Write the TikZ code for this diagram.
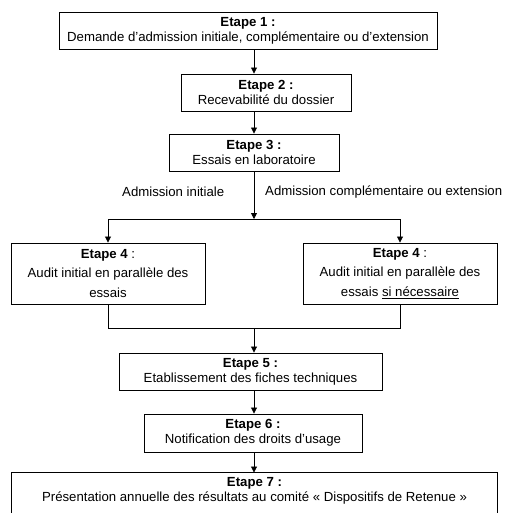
\documentclass[tikz,border=0pt]{standalone}
\usepackage{fontspec}
\setmainfont{Liberation Sans}
\usetikzlibrary{arrows.meta}
\begin{document}
\begin{tikzpicture}[x=1pt,y=-1pt,
  box/.style={draw, line width=0.9pt, inner sep=0pt, align=center,
    font=\fontsize{13.2}{15}\selectfont},
  boxfour/.style={box, font=\fontsize{13.2}{19.5}\selectfont},
  boxline/.style={line width=0.9pt},
  lbl/.style={inner sep=0pt, font=\fontsize{13.2}{15}\selectfont},
  conn/.style={line width=0.8pt},
  arr/.style={conn, -{Triangle[length=6pt,width=6pt]}}]
\useasboundingbox (0,0) rectangle (505,513);
\clip (0,0) rectangle (505,513);

\node[box, minimum width=378pt, minimum height=37pt] (b1) at (248,30.5)
  {\textbf{Etape 1 :}\\Demande d’admission initiale, complémentaire ou d’extension};
\node[box, minimum width=170pt, minimum height=37pt] (b2) at (266,92.5)
  {\textbf{Etape 2 :}\\Recevabilité du dossier};
\node[box, minimum width=170pt, minimum height=37pt] (b3) at (254,152.5)
  {\textbf{Etape 3 :}\\Essais en laboratoire};

\node[lbl, anchor=west] (l1) at (122,192) {Admission initiale};
\node[lbl, anchor=west] (l2) at (265,192) {Admission complémentaire ou extension};

\node[boxfour, minimum width=194pt, minimum height=61pt] (b4l) at (108,273.5)
  {\textbf{Etape 4} :\\Audit initial en parallèle des\\essais};
\node[boxfour, minimum width=194pt, minimum height=61pt] (b4r) at (400,273.5)
  {\textbf{Etape 4} :\\Audit initial en parallèle des\\essais \underline{si nécessaire}};

\node[box, minimum width=263pt, minimum height=37pt] (b5) at (250.5,371.5)
  {\textbf{Etape 5 :}\\Etablissement des fiches techniques};
\node[box, minimum width=218pt, minimum height=38pt] (b6) at (253,433)
  {\textbf{Etape 6 :}\\Notification des droits d’usage};
\node[box, draw=none, minimum width=485pt, minimum height=36pt] (b7) at (254.5,491)
  {\textbf{Etape 7 :}\\Présentation annuelle des résultats au comité « Dispositifs de Retenue »};
\draw[boxline] ([yshift=-20pt]b7.south west) -- (b7.north west) -- (b7.north east) -- ([yshift=-20pt]b7.south east);

\coordinate (split) at (254,219);
\coordinate (join) at (254,328);

\draw[arr] (b1.south -| split) -- (b2.north -| split);
\draw[arr] (b2.south -| split) -- (b3.north -| split);
\draw[arr] (b3.south -| split) -- (split);
\draw[conn] (split -| b4l.north) -- (split -| b4r.north);
\draw[arr] (split -| b4l.north) -- (b4l.north);
\draw[arr] (split -| b4r.north) -- (b4r.north);
\draw[conn] (b4l.south) -- (join -| b4l.south) -- (join -| b4r.south) -- (b4r.south);
\draw[arr] (join) -- (b5.north -| join);
\draw[arr] (b5.south -| join) -- (b6.north -| join);
\draw[arr] (b6.south -| join) -- (b7.north -| join);
\end{tikzpicture}
\end{document}
